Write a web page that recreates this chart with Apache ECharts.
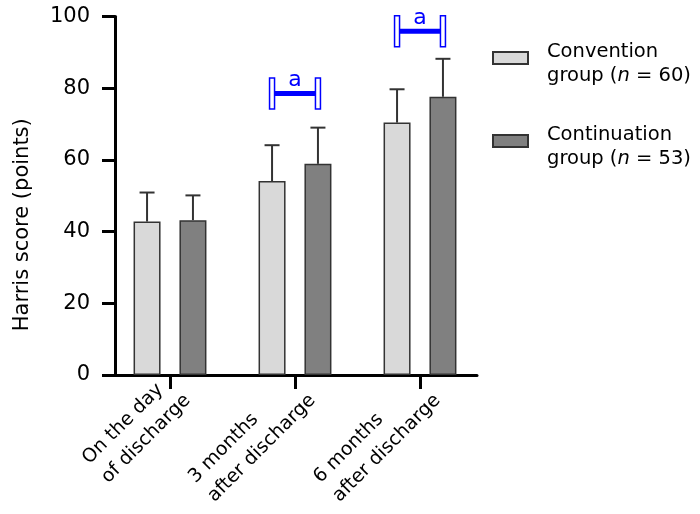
<!DOCTYPE html>
<html><head><meta charset="utf-8">
<script src="https://cdn.jsdelivr.net/npm/echarts@6/dist/echarts.min.js"></script>
<style>html,body{margin:0;padding:0;background:#fff}#c{width:700px;height:514px}</style>
</head><body><div id="c"></div>
<script>
// ---- data ----
const categories = ['On the day\nof discharge', '3 months\nafter discharge', '6 months\nafter discharge'];
const seriesNames = ['Convention group', 'Continuation group'];
const groupN = [60, 53];
const conventionMean = [42.8, 54.1, 70.4];
const conventionSD = [8.1, 10.0, 9.3];
const continuationMean = [43.2, 58.9, 77.6];
const continuationSD = [6.9, 10.1, 10.6];
const sigCategoryIndex = [1, 2];
const sigLevel = [78.5, 95.9];
const sigLabel = ['a', 'a'];
const yMin = 0, yMax = 100, yInterval = 20;

// ---- style ----
const FONT = 'DejaVu Sans';
const BAR_WIDTH = 27;
const BAR_GAP = 0.7;
const HALF = BAR_WIDTH * (1 + BAR_GAP) / 2;
const BLUE = '#0000ff';

function errData(mean, sd) { return mean.map((m, i) => [i, m, m + sd[i]]); }
function errorRender(sign) {
  return function (params, api) {
    const x = api.value(0), m = api.value(1), t = api.value(2);
    const p0 = api.coord([x, m]);
    const p1 = api.coord([x, t]);
    const cx = p0[0] + sign * HALF;
    return { type: 'group', children: [
      { type: 'line', shape: { x1: cx, y1: p0[1], x2: cx, y2: p1[1] }, style: { stroke: '#333', lineWidth: 2 } },
      { type: 'line', shape: { x1: cx - 7.5, y1: p1[1], x2: cx + 7.5, y2: p1[1] }, style: { stroke: '#333', lineWidth: 2 } }
    ]};
  };
}
function sigRender(params, api) {
  const i = api.value(0), lvl = api.value(1);
  const c = api.coord([i, lvl]);
  const xl = c[0] - HALF, xr = c[0] + HALF;
  return { type: 'group', children: [
    { type: 'line', shape: { x1: xl, y1: c[1], x2: xr, y2: c[1] }, style: { stroke: BLUE, lineWidth: 5 } },
    { type: 'rect', shape: { x: xl - 2.5, y: c[1] - 15.5, width: 5, height: 31 }, style: { fill: '#fff', stroke: BLUE, lineWidth: 1.5 } },
    { type: 'rect', shape: { x: xr - 2.5, y: c[1] - 15.5, width: 5, height: 31 }, style: { fill: '#fff', stroke: BLUE, lineWidth: 1.5 } },
    { type: 'text', style: { text: sigLabel[params.dataIndex], x: c[0], y: c[1] - 2, align: 'center', verticalAlign: 'bottom', fill: BLUE, fontSize: 22, fontFamily: FONT } }
  ]};
}

const gridBase = { top: 16.5, bottom: 139, containLabel: false, outerBoundsMode: 'none' };
const chart = echarts.init(document.getElementById('c'), null, { renderer: 'canvas' });
chart.setOption({
  animation: false,
  backgroundColor: '#fff',
  grid: [
    Object.assign({ left: 107.5, right: 217.5 }, gridBase),   // bars + ticks
    Object.assign({ left: 115, right: 223 }, gridBase),       // axis lines + y labels
    Object.assign({ left: 115.5, right: 209.5 }, gridBase)    // category labels
  ],
  legend: {
    orient: 'vertical', left: 492, top: 28, padding: 0,
    itemWidth: 35, itemHeight: 12, itemGap: 23, icon: 'rect',
    data: seriesNames,
    formatter: function (name) {
      const k = seriesNames.indexOf(name);
      const parts = name.split(' ');
      return '{t|' + parts[0] + '}\n{t|' + parts[1] + ' (}{i|n}{t| = ' + groupN[k] + ')}';
    },
    textStyle: {
      fontFamily: FONT, fontSize: 19.5, color: '#000', lineHeight: 24, padding: [12, 0, 0, 14],
      rich: {
        t: { fontFamily: FONT, fontSize: 19.5, color: '#000', lineHeight: 24 },
        i: { fontFamily: FONT, fontSize: 19.5, color: '#000', lineHeight: 24, fontStyle: 'italic' }
      }
    }
  },
  xAxis: [
    {
      type: 'category', gridIndex: 0, data: categories,
      axisLine: { show: false },
      axisTick: { show: true, alignWithLabel: true, length: 14, lineStyle: { color: '#000', width: 3 } },
      axisLabel: { show: false },
      splitLine: { show: false }
    },
    {
      type: 'value', gridIndex: 1, min: 0, max: 1,
      axisLine: { show: true, lineStyle: { color: '#000', width: 3 } },
      axisTick: { show: false }, axisLabel: { show: false }, splitLine: { show: false }
    },
    {
      type: 'category', gridIndex: 2, data: categories,
      axisLine: { show: false }, axisTick: { show: false }, splitLine: { show: false },
      axisLabel: {
        rotate: 45, margin: 13, interval: 0, align: 'right', verticalAlign: 'middle',
        formatter: function (v) { return v.split('\n').map(s => '{c|' + s + '}').join('\n'); },
        rich: { c: { align: 'left', fontFamily: FONT, fontSize: 19, lineHeight: 27, color: '#000' } }
      }
    }
  ],
  yAxis: [
    { type: 'value', gridIndex: 0, min: yMin, max: yMax, interval: yInterval, show: false, splitLine: { show: false } },
    {
      type: 'value', gridIndex: 1, min: yMin, max: yMax, interval: yInterval,
      name: 'Harris score (points)', nameLocation: 'middle', nameGap: 82,
      nameTextStyle: { fontFamily: FONT, fontSize: 21, color: '#000', padding: [0, 58, 0, 0] },
      axisLine: { show: true, lineStyle: { color: '#000', width: 3 } },
      axisTick: { show: true, length: 13, lineStyle: { color: '#000', width: 3 } },
      axisLabel: { margin: 25, fontFamily: FONT, fontSize: 21, color: '#000' },
      splitLine: { show: false }
    },
    { type: 'value', gridIndex: 2, min: yMin, max: yMax, show: false, splitLine: { show: false } }
  ],
  series: [
    {
      name: seriesNames[0], type: 'bar', xAxisIndex: 0, yAxisIndex: 0,
      barWidth: BAR_WIDTH, barGap: (BAR_GAP * 100) + '%',
      itemStyle: { color: '#d9d9d9', borderColor: '#333', borderWidth: 1.5 },
      data: conventionMean
    },
    {
      name: seriesNames[1], type: 'bar', xAxisIndex: 0, yAxisIndex: 0,
      barWidth: BAR_WIDTH, barGap: (BAR_GAP * 100) + '%',
      itemStyle: { color: '#808080', borderColor: '#333', borderWidth: 1.5 },
      data: continuationMean
    },
    { type: 'custom', xAxisIndex: 0, yAxisIndex: 0, renderItem: errorRender(-1), data: errData(conventionMean, conventionSD), z: 5 },
    { type: 'custom', xAxisIndex: 0, yAxisIndex: 0, renderItem: errorRender(1), data: errData(continuationMean, continuationSD), z: 5 },
    { type: 'custom', xAxisIndex: 0, yAxisIndex: 0, renderItem: sigRender, data: sigCategoryIndex.map((c, i) => [c, sigLevel[i]]), z: 6 }
  ]
});
</script>
</body></html>
